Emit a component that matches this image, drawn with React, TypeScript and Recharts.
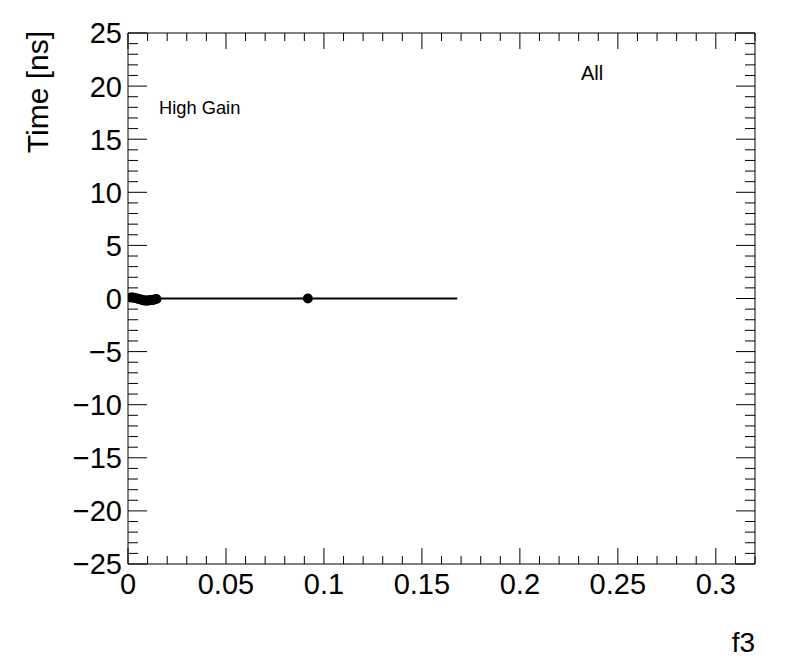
import { ComposedChart, XAxis, YAxis, Scatter, Line } from "recharts"

// measured points (f3, time offset in ns)
const pointF3 = [0.0015, 0.0025, 0.0035, 0.0045, 0.0055, 0.0065, 0.0075, 0.0085, 0.0095, 0.0105, 0.0115, 0.0125, 0.0135, 0.0145, 0.0918]
const pointTime = [0.1, 0.1, 0.05, 0.0, -0.05, -0.1, -0.15, -0.2, -0.2, -0.2, -0.15, -0.15, -0.1, -0.05, 0.0]

// fitted constant line
const fitF3 = [0, 0.168]
const fitTime = [0, 0]

const xMajorTicks = [0, 0.05, 0.1, 0.15, 0.2, 0.25, 0.3]
const xTickLabels = ["0", "0.05", "0.1", "0.15", "0.2", "0.25", "0.3"]
const yMajorTicks = [-25, -20, -15, -10, -5, 0, 5, 10, 15, 20, 25]

const points = pointF3.map((x, i) => ({ x, y: pointTime[i] }))
const fit = fitF3.map((x, i) => ({ x, y: fitTime[i] }))

const xTicks: number[] = []
for (let i = 0; i <= 32; i++) xTicks.push(i / 100)
const yTicks: number[] = []
for (let v = -25; v <= 25; v++) yTicks.push(v)

const FONT = "'Liberation Sans', Arial, Helvetica, sans-serif"

function xLabel(v: number) {
  return xMajorTicks.findIndex((m) => Math.abs(m - v) < 1e-6)
}

function BottomTick(props: any) {
  const { x, y, payload } = props
  const idx = xLabel(payload.value)
  const len = idx >= 0 ? 16 : 8
  return (
    <g>
      <line x1={x} y1={y} x2={x} y2={y - len} stroke="#000" strokeWidth={1} />
      {idx >= 0 && (
        <text x={x} y={y + 30} textAnchor="middle" fontSize={29} fontFamily={FONT} fill="#000">
          {xTickLabels[idx]}
        </text>
      )}
    </g>
  )
}

function TopTick(props: any) {
  const { x, y, payload } = props
  const len = xLabel(payload.value) >= 0 ? 16 : 8
  return <line x1={x} y1={y} x2={x} y2={y + len} stroke="#000" strokeWidth={1} />
}

function LeftTick(props: any) {
  const { x, y, payload } = props
  const major = yMajorTicks.includes(payload.value)
  const len = major ? 19 : 10
  const label = payload.value < 0 ? `\u2212${-payload.value}` : `${payload.value}`
  return (
    <g>
      <line x1={x} y1={y} x2={x + len} y2={y} stroke="#000" strokeWidth={1} />
      {major && (
        <text x={x - 6} y={y} dy="0.36em" textAnchor="end" fontSize={29} fontFamily={FONT} fill="#000">
          {label}
        </text>
      )}
    </g>
  )
}

function RightTick(props: any) {
  const { x, y, payload } = props
  const len = yMajorTicks.includes(payload.value) ? 19 : 10
  return <line x1={x} y1={y} x2={x - len} y2={y} stroke="#000" strokeWidth={1} />
}

const Dot = (props: any) => <circle cx={props.cx} cy={props.cy} r={5} fill="#000" />

export default function App() {
  return (
    <div style={{ position: "absolute", left: 0, top: 0, width: 796, height: 672, background: "#fff" }}>
      <ComposedChart width={796} height={672} margin={{ top: 32, right: 40, bottom: 107, left: 127 }}>
        <XAxis
          xAxisId="b"
          type="number"
          dataKey="x"
          domain={[0, 0.32]}
          ticks={xTicks}
          interval={0}
          height={1}
          tickSize={0}
          tickMargin={0}
          tickLine={false}
          axisLine={{ stroke: "#000" }}
          tick={<BottomTick />}
          allowDataOverflow
        />
        <XAxis
          xAxisId="t"
          orientation="top"
          type="number"
          dataKey="x"
          domain={[0, 0.32]}
          ticks={xTicks}
          interval={0}
          height={1}
          tickSize={0}
          tickMargin={0}
          tickLine={false}
          axisLine={{ stroke: "#000" }}
          tick={<TopTick />}
          allowDataOverflow
        />
        <YAxis
          yAxisId="l"
          type="number"
          dataKey="y"
          domain={[-25, 25]}
          ticks={yTicks}
          interval={0}
          width={1}
          tickSize={0}
          tickMargin={0}
          tickLine={false}
          axisLine={{ stroke: "#000" }}
          tick={<LeftTick />}
          allowDataOverflow
        />
        <YAxis
          yAxisId="r"
          orientation="right"
          type="number"
          dataKey="y"
          domain={[-25, 25]}
          ticks={yTicks}
          interval={0}
          width={1}
          tickSize={0}
          tickMargin={0}
          tickLine={false}
          axisLine={{ stroke: "#000" }}
          tick={<RightTick />}
          allowDataOverflow
        />
        <Line
          xAxisId="t"
          yAxisId="r"
          data={fit}
          dataKey="y"
          stroke="#000"
          strokeWidth={2}
          dot={false}
          isAnimationActive={false}
        />
        <Scatter
          xAxisId="b"
          yAxisId="l"
          data={points}
          dataKey="y"
          fill="#000"
          shape={<Dot />}
          isAnimationActive={false}
        />
      </ComposedChart>
      <svg width={796} height={672} style={{ position: "absolute", left: 0, top: 0, pointerEvents: "none" }}>
        <text
          x={0}
          y={0}
          transform="translate(48, 92) rotate(-90)"
          textAnchor="middle"
          fontSize={30}
          fontFamily={FONT}
          fill="#000"
        >
          Time [ns]
        </text>
        <text x={755} y={652} textAnchor="end" fontSize={28} fontFamily={FONT} fill="#000">
          f3
        </text>
        <text x={159} y={114} fontSize={18.3} fontFamily={FONT} fill="#000">
          High Gain
        </text>
        <text x={581} y={80} fontSize={20} fontFamily={FONT} fill="#000">
          All
        </text>
      </svg>
    </div>
  )
}
